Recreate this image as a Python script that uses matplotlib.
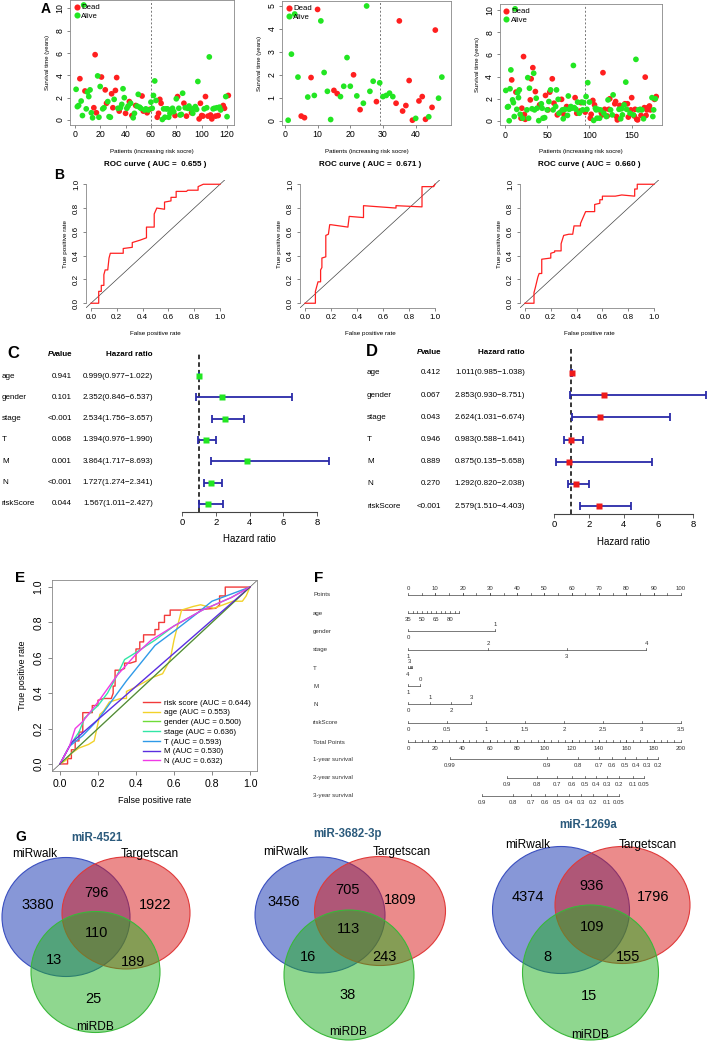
import numpy as np
import matplotlib
matplotlib.use('Agg')
import matplotlib.pyplot as plt
import matplotlib.transforms as mtransforms
from matplotlib.patches import Ellipse
from matplotlib.lines import Line2D

plt.rcParams['font.family'] = ['Liberation Sans', 'DejaVu Sans']

W, H = 709, 1041

# ---------------- A: risk plots (survival time vs patient rank) ----------------
a1_time = [2.75, 1.2, 1.3, 3.7, 1.7, 0.4, 10.3, 2.6, 1.0, 2.5,
           2.1, 2.7, 0.65, 0.2, 1.1, 5.85, 0.65, 3.95, 0.25, 3.0,
           3.85, 1.0, 1.1, 2.7, 1.5, 1.65, 0.3, 0.25, 2.35, 1.1,
           1.85, 2.65, 3.8, 1.05, 0.8, 1.1, 1.4, 2.8, 2.0, 0.6,
           1.05, 1.25, 1.65, 1.5, 0.4, 0.2, 0.6, 1.3, 1.25, 2.3,
           1.15, 1.05, 2.15, 0.8, 0.9, 1.0, 0.65, 0.9, 0.95, 1.6,
           1.05, 2.2, 3.5, 1.75, 0.25, 0.6, 1.85, 1.5, 0.05, 1.0,
           0.25, 1.0, 1.0, 0.25, 0.6, 0.9, 1.05, 0.75, 0.4, 1.9,
           2.1, 1.05, 0.45, 0.5, 2.4, 1.5, 1.1, 0.35, 1.05, 1.25,
           1.0, 0.65, 0.6, 1.05, 1.2, 0.95, 3.45, 0.1, 1.5, 0.4,
           0.35, 1.0, 2.1, 1.1, 0.35, 5.65, 0.45, 0.1, 1.0, 1.05,
           0.35, 1.1, 0.4, 1.15, 0.9, 1.1, 1.3, 1.05, 2.1, 0.3,
           2.2]
a1_dead = [0, 0, 0, 1, 0, 0, 0, 1, 0, 0,
           0, 0, 0, 0, 1, 1, 1, 0, 0, 0,
           1, 0, 0, 1, 1, 0, 0, 0, 1, 1,
           0, 1, 1, 0, 1, 0, 0, 0, 0, 1,
           0, 0, 1, 0, 1, 0, 0, 1, 0, 0,
           0, 0, 1, 1, 0, 0, 1, 0, 1, 0,
           0, 0, 0, 0, 1, 1, 1, 1, 0, 0,
           0, 0, 0, 0, 0, 0, 0, 0, 1, 0,
           1, 0, 0, 0, 0, 1, 0, 1, 0, 0,
           0, 1, 0, 0, 0, 0, 0, 1, 1, 1,
           1, 0, 1, 0, 1, 0, 1, 1, 0, 0,
           1, 0, 1, 0, 0, 1, 1, 1, 0, 0,
           1]
a1_cut = 60

a2_time = [0.02, 2.9, 4.65, 1.9, 0.2, 0.13, 1.03, 1.88, 1.1, 4.85,
           4.35, 2.1, 1.28, 0.05, 1.32, 1.18, 1.05, 1.5, 2.75, 1.5,
           2.0, 1.08, 0.48, 0.76, 5.0, 1.28, 1.72, 0.83, 1.65, 1.05,
           1.1, 1.2, 1.05, 0.76, 4.35, 0.42, 0.66, 1.75, 0.02, 0.1,
           0.86, 1.05, 0.06, 0.17, 0.58, 3.95, 0.98, 1.9]
a2_dead = [0, 0, 0, 0, 1, 1, 0, 1, 0, 1,
           0, 0, 0, 0, 1, 1, 0, 0, 0, 0,
           1, 0, 1, 0, 0, 0, 0, 1, 0, 0,
           0, 0, 0, 1, 1, 1, 1, 1, 1, 0,
           1, 1, 1, 0, 1, 1, 0, 0]
a2_cut = 29

a3_rank = [1, 3, 4, 5, 6, 7, 8, 9, 10, 11, 12, 13, 14, 15, 16, 17, 18, 19, 20, 21,
           22, 23, 24, 26, 27, 28, 29, 30, 31, 32, 33, 34, 35, 36, 37, 38, 40, 41, 42, 43,
           44, 45, 47, 48, 50, 51, 52, 53, 54, 56, 57, 58, 60, 61, 62, 63, 64, 66, 67, 68,
           69, 70, 71, 73, 74, 75, 76, 78, 79, 81, 82, 83, 84, 85, 86, 88, 89, 90, 91, 92,
           93, 95, 96, 97, 98, 100, 101, 102, 104, 105, 106, 107, 108, 109, 110, 112, 113, 114, 115, 116,
           117, 118, 120, 121, 122, 123, 124, 125, 127, 128, 130, 131, 132, 133, 135, 136, 137, 138, 139, 141,
           142, 143, 144, 145, 146, 148, 149, 150, 152, 153, 154, 155, 156, 157, 158, 160, 161, 162, 164, 165,
           166, 167, 168, 169, 171, 172, 174, 175, 176, 177, 178, 179]
a3_time = [2.75, 1.25, 1.3, 0.02, 2.9, 4.6, 3.7, 1.9, 1.65, 0.4, 10.1, 2.6, 1.05, 2.55, 2.1, 2.8, 0.6, 0.25, 1.15, 0.25,
           5.8, 0.6, 0.15, 1.0, 3.9, 0.25, 2.95, 1.9, 3.8, 1.1, 4.8, 4.3, 1.0, 2.65, 2.05, 1.15, 0.03, 1.45, 1.3, 1.55,
           1.15, 0.25, 0.3, 2.3, 1.0, 1.0, 1.75, 2.6, 2.8, 3.8, 1.0, 1.6, 1.3, 2.8, 0.55, 1.95, 0.7, 0.8, 1.95, 1.0,
           0.2, 0.55, 1.05, 1.3, 0.5, 2.25, 1.05, 1.3, 1.15, 5.0, 1.2, 2.1, 1.05, 0.7, 1.7, 0.7, 0.9, 1.65, 1.7, 1.0,
           1.65, 0.8, 2.2, 1.05, 3.45, 1.7, 0.25, 0.6, 1.85, 0.05, 1.45, 1.15, 1.0, 0.25, 1.05, 0.25, 1.0, 0.75, 0.55, 4.35,
           0.7, 1.05, 0.4, 0.45, 1.9, 1.05, 2.0, 1.0, 0.55, 2.35, 1.55, 1.75, 0.4, 0.1, 1.05, 1.4, 0.2, 1.1, 0.55, 1.45,
           1.55, 3.5, 1.05, 1.55, 0.35, 0.7, 1.0, 2.1, 0.55, 0.45, 1.05, 5.55, 0.15, 0.1, 1.0, 1.05, 0.5, 1.0, 0.2, 1.2,
           3.95, 0.5, 1.0, 1.2, 1.35, 1.0, 2.1, 0.4, 1.0, 1.95, 2.0, 2.2]
a3_dead = [0, 0, 0, 0, 0, 0, 1, 0, 0, 0, 0, 1, 0, 0, 0, 0, 0, 1, 1, 0,
           1, 1, 1, 0, 0, 0, 0, 1, 1, 0, 1, 0, 0, 1, 0, 0, 0, 1, 1, 0,
           0, 0, 0, 1, 0, 1, 0, 1, 0, 1, 0, 1, 0, 0, 1, 0, 0, 1, 1, 0,
           0, 1, 0, 1, 0, 0, 0, 0, 0, 0, 0, 1, 0, 1, 0, 0, 1, 1, 0, 0,
           0, 1, 0, 0, 0, 0, 1, 1, 1, 0, 1, 0, 0, 0, 0, 0, 0, 1, 1, 1,
           0, 1, 0, 1, 0, 1, 1, 0, 0, 0, 1, 1, 1, 1, 0, 1, 0, 0, 0, 0,
           1, 0, 0, 1, 1, 0, 1, 1, 0, 1, 1, 0, 1, 1, 0, 0, 1, 0, 0, 1,
           1, 1, 1, 1, 1, 1, 0, 0, 0, 1, 0, 1]
a3_cut = 95

# ---------------- B: ROC curves ----------------
b_auc = ['0.655', '0.671', '0.660']
b1_fpr = [0, 0.06, 0.06, 0.08, 0.08, 0.10, 0.10, 0.11, 0.13, 0.14, 0.15, 0.25, 0.25, 0.32, 0.32, 0.38,
          0.43, 0.43, 0.49, 0.49, 0.51, 0.57, 0.57, 0.62, 0.62, 0.66, 0.66, 0.74, 0.75, 0.83, 0.83, 0.87, 0.95, 1.0]
b1_tpr = [0, 0, 0.10, 0.10, 0.15, 0.15, 0.24, 0.28, 0.28, 0.38, 0.42, 0.42, 0.46, 0.47, 0.51, 0.53,
          0.55, 0.64, 0.64, 0.75, 0.80, 0.79, 0.85, 0.86, 0.89, 0.89, 0.94, 0.94, 0.95, 0.95, 0.98, 1.0, 1.0, 1.0]
b2_fpr = [0, 0.08, 0.08, 0.10, 0.12, 0.12, 0.13, 0.13, 0.16, 0.16, 0.18, 0.19, 0.20, 0.33, 0.34,
          0.45, 0.45, 0.70, 0.70, 0.90, 0.90, 0.99, 1.0]
b2_tpr = [0, 0, 0.10, 0.18, 0.18, 0.28, 0.30, 0.38, 0.39, 0.57, 0.58, 0.66, 0.66, 0.64, 0.73,
          0.72, 0.82, 0.80, 0.82, 0.81, 0.98, 0.98, 1.0]
b3_fpr = [0, 0.07, 0.07, 0.08, 0.10, 0.11, 0.13, 0.13, 0.20, 0.20, 0.23, 0.23, 0.28, 0.28, 0.30, 0.34,
          0.37, 0.38, 0.43, 0.43, 0.45, 0.47, 0.54, 0.54, 0.58, 0.58, 0.60, 0.60, 0.70, 0.75, 0.85, 0.85,
          0.87, 0.87, 1.0]
b3_tpr = [0, 0, 0.09, 0.13, 0.22, 0.25, 0.25, 0.37, 0.38, 0.42, 0.43, 0.44, 0.44, 0.50, 0.57, 0.58,
          0.58, 0.65, 0.65, 0.67, 0.72, 0.77, 0.77, 0.83, 0.84, 0.87, 0.87, 0.90, 0.90, 0.91, 0.90, 0.96,
          0.96, 1.0, 1.0]

# ---------------- C / D: forest plots ----------------
forest_vars = ['age', 'gender', 'stage', 'T', 'M', 'N', 'riskScore']
c_p = ['0.941', '0.101', '<0.001', '0.068', '0.001', '<0.001', '0.044']
c_hr = [0.999, 2.352, 2.534, 1.394, 3.864, 1.727, 1.567]
c_lo = [0.977, 0.846, 1.756, 0.976, 1.717, 1.274, 1.011]
c_hi = [1.022, 6.537, 3.657, 1.990, 8.693, 2.341, 2.427]
d_p = ['0.412', '0.067', '0.043', '0.946', '0.889', '0.270', '<0.001']
d_hr = [1.011, 2.853, 2.624, 0.983, 0.875, 1.292, 2.579]
d_lo = [0.985, 0.930, 1.031, 0.588, 0.135, 0.820, 1.510]
d_hi = [1.038, 8.751, 6.674, 1.641, 5.658, 2.038, 4.403]

# ---------------- E: multi ROC ----------------
e_names = ['risk score', 'age', 'gender', 'stage', 'T', 'M', 'N']
e_auc = ['0.644', '0.553', '0.500', '0.636', '0.593', '0.530', '0.632']
e_fpr = [
    [0, 0.04, 0.04, 0.06, 0.06, 0.08, 0.08, 0.10, 0.10, 0.12, 0.12, 0.17, 0.17, 0.20, 0.20, 0.23,
     0.27, 0.28, 0.28, 0.29, 0.29, 0.32, 0.34, 0.34, 0.37, 0.40, 0.40, 0.42, 0.42, 0.44, 0.44, 0.50,
     0.50, 0.52, 0.52, 0.55, 0.55, 0.58, 0.58, 0.66, 0.70, 0.82, 0.82, 0.84, 0.84, 0.87, 0.87, 1.0],
    [0, 0.03, 0.06, 0.10, 0.15, 0.18, 0.21, 0.23, 0.26, 0.32, 0.35, 0.35, 0.39, 0.44, 0.49, 0.54,
     0.58, 0.60, 0.64, 0.70, 0.74, 0.81, 0.91, 0.96, 0.98, 1.0],
    [0, 1.0],
    [0, 0.05, 0.10, 0.13, 0.20, 0.25, 0.30, 0.34, 0.40, 0.50, 0.60, 0.75, 0.90, 1.0],
    [0, 0.05, 0.12, 0.20, 0.35, 0.50, 0.60, 0.72, 0.80, 1.0],
    [0, 0.06, 1.0],
    [0, 0.05, 0.08, 0.12, 0.20, 0.30, 0.40, 0.48, 0.60, 0.75, 0.90, 1.0],
]
e_tpr = [
    [0, 0, 0.03, 0.03, 0.08, 0.08, 0.13, 0.13, 0.18, 0.18, 0.29, 0.29, 0.33, 0.33, 0.36, 0.37,
     0.37, 0.40, 0.44, 0.44, 0.53, 0.53, 0.54, 0.57, 0.57, 0.58, 0.65, 0.65, 0.69, 0.69, 0.73, 0.73,
     0.76, 0.76, 0.80, 0.80, 0.84, 0.84, 0.87, 0.87, 0.87, 0.88, 0.88, 0.90, 0.95, 0.95, 1.0, 1.0],
    [0, 0.02, 0.06, 0.09, 0.11, 0.13, 0.28, 0.30, 0.35, 0.37, 0.37, 0.41, 0.43, 0.46, 0.49, 0.51,
     0.59, 0.70, 0.87, 0.89, 0.90, 0.88, 0.92, 0.92, 0.95, 1.0],
    [0, 1.0],
    [0, 0.10, 0.18, 0.26, 0.33, 0.40, 0.50, 0.59, 0.63, 0.70, 0.78, 0.87, 0.94, 1.0],
    [0, 0.10, 0.16, 0.25, 0.47, 0.67, 0.75, 0.85, 0.92, 1.0],
    [0, 0.12, 1.0],
    [0, 0.10, 0.20, 0.24, 0.35, 0.50, 0.62, 0.70, 0.78, 0.87, 0.94, 1.0],
]

# ---------------- F: nomogram ----------------
nom_rows = ['Points', 'age', 'gender', 'stage', 'T', 'M', 'N', 'riskScore', 'Total Points',
            '1-year survival', '2-year survival', '3-year survival']
points_vals = [0, 10, 20, 30, 40, 50, 60, 70, 80, 90, 100]
age_vals = [35, 40, 45, 50, 55, 60, 65, 70, 75, 80, 85, 90]
age_pts = [0, 1.7, 3.4, 5.1, 6.8, 8.5, 10.3, 12.0, 13.7, 15.4, 17.1, 18.8]
gender_vals = ['0', '1']
gender_pts = [0, 31.9]
stage_vals = ['1', '2', '3', '4']
stage_pts = [0, 29.3, 58.2, 87.2]
t_vals = ['1', '2', '3', '4']
t_pts = [1.5, 1.0, 0.7, 0]
m_vals = ['0', '1']
m_pts = [4.4, 0]
n_vals = ['0', '1', '2', '3']
n_pts = [0, 8.1, 15.8, 23.1]
risk_vals = ['0', '0.5', '1', '1.5', '2', '2.5', '3', '3.5']
risk_pts = [0, 14.3, 28.6, 42.9, 57.1, 71.4, 85.7, 100]
total_vals = [0, 20, 40, 60, 80, 100, 120, 140, 160, 180, 200]
surv1_vals = ['0.99', '0.9', '0.8', '0.7', '0.6', '0.5', '0.4', '0.3', '0.2']
surv1_tp = [30.8, 101.8, 124.5, 139.9, 149.5, 159.0, 167.0, 175.1, 183.2]
surv2_vals = ['0.9', '0.8', '0.7', '0.6', '0.5', '0.4', '0.3', '0.2', '0.1', '0.05']
surv2_tp = [72.5, 94.5, 109.2, 120.1, 129.7, 137.7, 145.8, 154.6, 164.8, 172.9]
surv3_vals = ['0.9', '0.8', '0.7', '0.6', '0.5', '0.4', '0.3', '0.2', '0.1', '0.05']
surv3_tp = [54.2, 76.9, 90.1, 100.4, 109.2, 117.9, 126.7, 135.5, 145.8, 154.6]

# ---------------- G: Venn diagrams ----------------
venn_titles = ['miR-4521', 'miR-3682-3p', 'miR-1269a']
venn_sets = ['miRwalk', 'Targetscan', 'miRDB']
# regions: walk only, walk&ts, ts only, all, walk&db, ts&db, db only
venn_counts = [
    [3380, 796, 1922, 110, 13, 189, 25],
    [3456, 705, 1809, 113, 16, 243, 38],
    [4374, 936, 1796, 109, 8, 155, 15],
]

# =====================================================================
fig = plt.figure(figsize=(W / 100, H / 100), dpi=100)
PX = mtransforms.Affine2D().scale(1 / W, -1 / H).translate(0, 1) + fig.transFigure


def add_ax(l, t, r, b):
    return fig.add_axes([l / W, 1 - b / H, (r - l) / W, (b - t) / H])


def ptext(x, y, s, **kw):
    kw.setdefault('ha', 'center')
    kw.setdefault('va', 'center')
    return fig.text(x, y, s, transform=PX, **kw)


RED = '#ff1f1f'
GREEN = '#22e622'
AXC = '#555555'


def r_axes(ax, fs, box=True):
    ax.tick_params(direction='out', length=2.5, width=0.5, color=AXC, labelsize=fs, pad=1.5)
    for s in ax.spines.values():
        s.set_color('#888888')
        s.set_linewidth(0.6)
    if not box:
        ax.spines['top'].set_visible(False)
        ax.spines['right'].set_visible(False)
    for lab in ax.get_yticklabels():
        lab.set_rotation(90)
        lab.set_va('center')


# ---- A ----
a_panels = [
    (np.arange(1, len(a1_time) + 1), a1_time, a1_dead, a1_cut, (70, 0.4, 234.4, 124.6),
     (-3.8, 125.8), (-0.41, 10.71), [0, 20, 40, 60, 80, 100, 120], [0, 2, 4, 6, 8, 10]),
    (np.arange(1, len(a2_time) + 1), a2_time, a2_dead, a2_cut, (282, 1.4, 451, 124.8),
     (-0.88, 50.8), (-0.18, 5.2), [0, 10, 20, 30, 40], [0, 1, 2, 3, 4, 5]),
    (np.array(a3_rank), a3_time, a3_dead, a3_cut, (499.8, 4.4, 662.2, 125.2),
     (-6.1, 186.1), (-0.38, 10.5), [0, 50, 100, 150], [0, 2, 4, 6, 8, 10]),
]
for rank, tm, dead, cut, box, xl, yl, xt, yt in a_panels:
    ax = add_ax(*box)
    tm = np.array(tm)
    dead = np.array(dead, dtype=bool)
    ax.scatter(rank[dead], tm[dead], s=17, color=RED, edgecolors='none', zorder=3)
    ax.scatter(rank[~dead], tm[~dead], s=17, color=GREEN, edgecolors='none', zorder=3)
    ax.axvline(cut, color='#777777', lw=0.7, ls=(0, (2, 2)))
    ax.set_xlim(*xl)
    ax.set_ylim(*yl)
    ax.set_xticks(xt)
    ax.set_yticks(yt)
    ax.set_ylabel('Survival time (years)', fontsize=4.3, labelpad=4)
    r_axes(ax, 6.3)
    hd = [Line2D([], [], marker='o', ls='none', color=RED, ms=4.4, mec='none'),
          Line2D([], [], marker='o', ls='none', color=GREEN, ms=4.4, mec='none')]
    ax.legend(hd, ['Dead', 'Alive'], loc='upper left', frameon=False, fontsize=5.6,
              handletextpad=0.2, handlelength=0.8, borderaxespad=0.15, labelspacing=0.15, borderpad=0.3)
    ptext((box[0] + box[2]) / 2, 152, 'Patients (increasing risk socre)', fontsize=4.4)

ptext(46, 9, 'A', fontsize=10, fontweight='bold')

# ---- B ----
b_boxes = [(85.8, 179.5, 225.2, 308), (299.8, 179.5, 440.2, 308), (519.8, 179.5, 659.2, 308)]
b_curves = [(b1_fpr, b1_tpr), (b2_fpr, b2_tpr), (b3_fpr, b3_tpr)]
for box, (fpr, tpr), auc in zip(b_boxes, b_curves, b_auc):
    ax = add_ax(*box)
    ax.plot(fpr, tpr, color='#ff2020', lw=0.9, zorder=3)
    ax.axline((0, 0), (1, 1), color='#444444', lw=0.5)
    ax.set_xlim(-0.04, 1.04)
    ax.set_ylim(-0.04, 1.04)
    ax.set_xticks([0, 0.2, 0.4, 0.6, 0.8, 1.0])
    ax.set_yticks([0, 0.2, 0.4, 0.6, 0.8, 1.0])
    ax.xaxis.set_major_formatter(matplotlib.ticker.FormatStrFormatter('%.1f'))
    ax.yaxis.set_major_formatter(matplotlib.ticker.FormatStrFormatter('%.1f'))
    r_axes(ax, 5.8, box=False)
    ax.spines['left'].set_bounds(0, 1)
    ax.spines['bottom'].set_bounds(0, 1)
    ax.set_ylabel('True positive rate', fontsize=4.5, labelpad=4)
    ptext((box[0] + box[2]) / 2, 165, 'ROC curve ( AUC =  %s )' % auc, fontsize=5.8, fontweight='bold')
    ptext((box[0] + box[2]) / 2, 334, 'False positive rate', fontsize=4.5)

ptext(59, 175, 'B', fontsize=10, fontweight='bold')

# ---- C / D ----
NAVY = '#2a2aa8'


def forest(box, row0, rowstep, xmax, hr, lo, hi, pv, color, cols, head_y, xlab_y):
    l, t, r, b = box
    ax = add_ax(l, t, r, b)
    hr, lo, hi = np.array(hr), np.array(lo), np.array(hi)
    rows = np.arange(len(hr))
    ax.errorbar(hr, rows, xerr=[hr - lo, hi - hr], fmt='none', ecolor=NAVY, elinewidth=1.3,
                capsize=2.6, capthick=1.3, zorder=2)
    ax.plot(hr, rows, 's', color=color, ms=4.6, mec='none', zorder=3)
    ax.axvline(1, color='black', lw=1.1, ls=(0, (3, 2)), zorder=1)
    ax.set_xlim(0, xmax)
    ax.set_ylim((b - row0) / rowstep, (t - row0) / rowstep)
    ax.set_xticks([0, 2, 4, 6, 8])
    ax.set_yticks([])
    for s in ['left', 'top', 'right']:
        ax.spines[s].set_visible(False)
    ax.spines['bottom'].set_bounds(0, 8)
    ax.spines['bottom'].set_color('#444444')
    ax.tick_params(axis='x', direction='out', length=3, width=0.6, color='#444444', labelsize=6.8, pad=1.5)
    ax.patch.set_alpha(0)
    x_lab, x_p, x_hr = cols
    for i, v in enumerate(forest_vars):
        y = row0 + i * rowstep
        ptext(x_lab, y, v, ha='left', fontsize=5.8)
        ptext(x_p, y, pv[i], ha='right', fontsize=5.8)
        ptext(x_hr, y, '%.3f(%.3f\u2212%.3f)' % (hr[i], lo[i], hi[i]), ha='right', fontsize=5.8)
    ptext(x_p - 19.2, head_y, 'P', ha='right', fontsize=5.8, fontweight='bold', fontstyle='italic')
    ptext(x_p, head_y, 'value', ha='right', fontsize=5.8, fontweight='bold')
    ptext(x_hr, head_y, 'Hazard ratio', ha='right', fontsize=5.8, fontweight='bold')
    x8 = l + (r - l) * 8 / xmax
    ptext((l + x8) / 2, xlab_y, 'Hazard ratio', fontsize=7)


forest((182, 353, 340, 512), 376, 21.33, 9.35, c_hr, c_lo, c_hi, c_p, '#22e622', (2, 72, 153), 355, 539)
forest((554, 349, 712, 514), 373, 22.17, 9.09, d_hr, d_lo, d_hi, d_p, '#ee1a1a', (367, 441, 525), 352, 542)
ptext(13.5, 354, 'C', fontsize=12, fontweight='bold')
ptext(372, 351, 'D', fontsize=12, fontweight='bold')

# ---- E ----
e_colors = ['#f23a3a', '#f2d22a', '#6fdc38', '#32e6a6', '#2f9ae8', '#5a2ee0', '#f03ae6']
ax = add_ax(52, 580, 257, 771)
for fpr, tpr, col in zip(e_fpr, e_tpr, e_colors):
    ax.plot(fpr, tpr, color=col, lw=1.0)
ax.axline((0, 0), (1, 1), color='#555555', lw=0.5)
ax.set_xlim(-0.042, 1.037)
ax.set_ylim(-0.04, 1.04)
ax.set_xticks([0, 0.2, 0.4, 0.6, 0.8, 1.0])
ax.set_yticks([0, 0.2, 0.4, 0.6, 0.8, 1.0])
ax.xaxis.set_major_formatter(matplotlib.ticker.FormatStrFormatter('%.1f'))
ax.yaxis.set_major_formatter(matplotlib.ticker.FormatStrFormatter('%.1f'))
r_axes(ax, 7.6)
ax.tick_params(length=3, pad=3)
ax.set_xlabel('False positive rate', fontsize=6.5, labelpad=5)
ax.set_ylabel('True positive rate', fontsize=6.5, labelpad=5)
hd = [Line2D([], [], color=c, lw=1.0) for c in e_colors]
lb = ['%s (AUC = %s)' % (n, a) for n, a in zip(e_names, e_auc)]
ax.legend(hd, lb, loc='upper left', bbox_to_anchor=(143, 699), bbox_transform=PX, frameon=False,
          fontsize=5.7, handlelength=2.1, handletextpad=0.6, labelspacing=0.28, borderpad=0, borderaxespad=0)
ptext(20, 578, 'E', fontsize=11, fontweight='bold')

# ---- F ----
NC = '#444444'
nax = add_ax(300, 575, 700, 810)
nax.set_xlim(-39.56, 106.96)
nax.set_ylim(810, 575)
nax.axis('off')
row_y = [595, 613, 631, 650, 668, 686, 704, 723, 742, 759, 778, 796]
for name, y in zip(nom_rows, row_y):
    ptext(313, y, name, ha='left', fontsize=4.4, color='#333333')


def nom_scale(y, pts, labels, sides, minor=()):
    nax.plot([min(pts), max(pts)], [y, y], color=NC, lw=0.5)
    for p in list(pts) + list(minor):
        nax.plot([p, p], [y, y - 1.8], color=NC, lw=0.5)
    for p, lab, s in zip(pts, labels, sides):
        if s == 'a':
            nax.text(p, y - 6.3, lab, ha='center', va='center', fontsize=4.3, color='#333333')
        elif s == 'b':
            nax.text(p, y + 6.5, lab, ha='center', va='center', fontsize=4.3, color='#333333')


nom_scale(row_y[0], points_vals, [str(v) for v in points_vals], ['a'] * 11, minor=np.arange(5, 100, 5))
nom_scale(row_y[1], age_pts, [str(v) for v in age_vals],
          ['b' if v in (35, 50, 65, 80) else None for v in age_vals])
nom_scale(row_y[2], gender_pts, gender_vals, ['b', 'a'])
nom_scale(row_y[3], stage_pts, stage_vals, ['b', 'a', 'b', 'a'])
nom_scale(row_y[4], t_pts, t_vals, [None, None, 'a', 'b'])
nom_scale(row_y[5], m_pts, m_vals, ['a', 'b'])
nom_scale(row_y[6], n_pts, n_vals, ['b', 'a', 'b', 'a'])
nom_scale(row_y[7], risk_pts, risk_vals, ['b'] * 8)
nom_scale(row_y[8], [v / 2 for v in total_vals], [str(v) for v in total_vals], ['b'] * 11,
          minor=np.arange(5, 200, 5) / 2)
nom_scale(row_y[9], [v / 2 for v in surv1_tp], surv1_vals, ['b'] * len(surv1_vals))
nom_scale(row_y[10], [v / 2 for v in surv2_tp], surv2_vals, ['b'] * len(surv2_vals))
nom_scale(row_y[11], [v / 2 for v in surv3_tp], surv3_vals, ['b'] * len(surv3_vals))
ptext(319, 578, 'F', fontsize=11, fontweight='bold')

# ---- G ----
gax = add_ax(0, 810, 709, 1041)
gax.set_xlim(0, W)
gax.set_ylim(H, 810)
gax.axis('off')
venn_fill = ['#1030b0', '#d81818', '#20b020']
venn_edge = ['#3a4fc0', '#e03a3a', '#3ab83a']
venn_geom = [
    [(66, 917, 128, 119), (126, 913, 128, 112), (95.5, 972, 129, 121)],
    [(320, 915, 130, 116), (380, 911, 131, 109), (349, 975, 130, 130)],
    [(561, 910, 137, 127), (622.5, 905, 135, 117), (590.5, 972.5, 136, 135)],
]
venn_num_xy = [
    [(38, 905), (96, 893), (155, 905), (97, 933), (54, 960), (133, 962), (93, 999)],
    [(284, 902), (348, 890), (400, 900), (348, 929), (308, 957), (384, 957), (348, 995)],
    [(528, 897), (592, 886), (653, 897), (592, 927), (547, 957), (628, 957), (589, 996)],
]
venn_lab_xy = [
    [(97, 838), (35, 854), (150, 854), (95, 1027)],
    [(348, 834), (286, 852), (402, 852), (348, 1032)],
    [(588, 825), (528, 845), (648, 845), (590, 1035)],
]
for k in range(3):
    for (cx, cy, w, h), fc, ec in zip(venn_geom[k], venn_fill, venn_edge):
        gax.add_patch(Ellipse((cx, cy), w, h, facecolor=matplotlib.colors.to_rgba(fc, 0.5),
                              edgecolor=ec, lw=0.8))
    for (x, y), n in zip(venn_num_xy[k], venn_counts[k]):
        ptext(x, y, str(n), fontsize=10.5)
    tl = venn_lab_xy[k]
    ptext(tl[0][0], tl[0][1], venn_titles[k], fontsize=8.3, fontweight='bold', color='#2b5a7c')
    for (x, y), s in zip(tl[1:], venn_sets):
        ptext(x, y, s, fontsize=8.6)
ptext(21, 837, 'G', fontsize=10, fontweight='bold')

fig.savefig('out.png', dpi=100)
